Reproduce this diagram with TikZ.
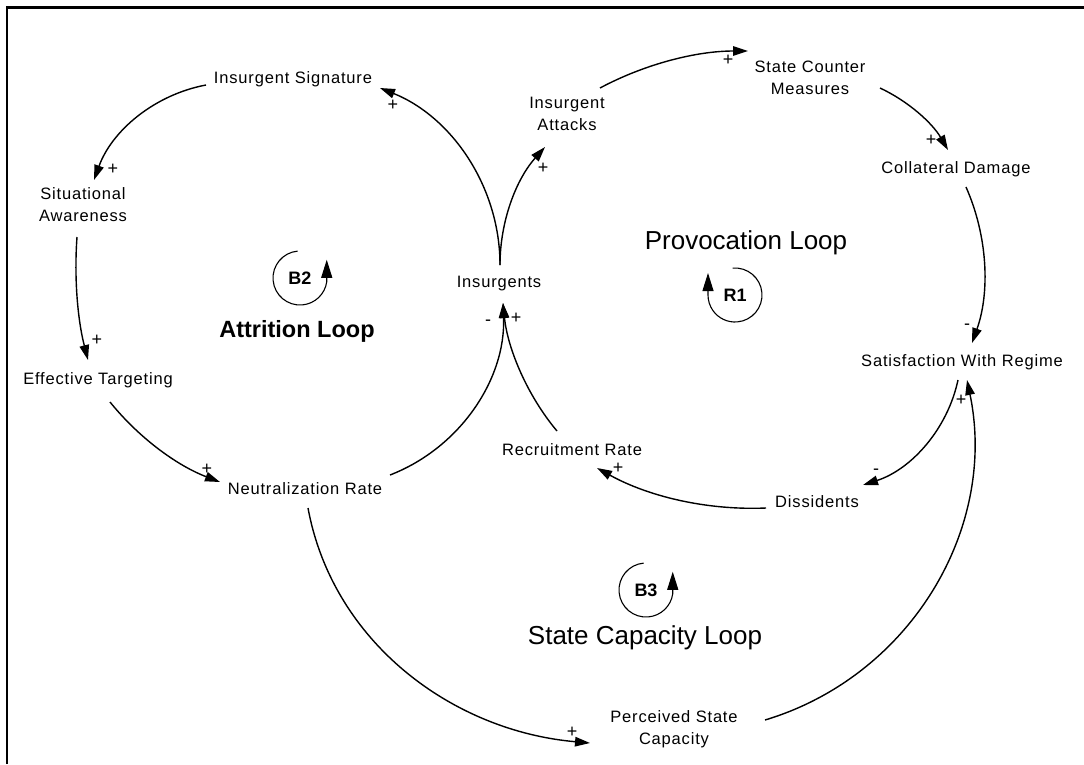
\documentclass[tikz,border=0pt]{standalone}
\usepackage{fontspec}
\setmainfont{Liberation Sans}
\newfontfamily\labfont[LetterSpace=5]{Liberation Sans}
\usetikzlibrary{arrows.meta}

\begin{document}
\begin{tikzpicture}[x=1pt,y=-1pt,
  var/.style={font=\labfont\fontsize{16.5}{22}\selectfont, align=center, inner sep=0pt},
  sign/.style={font=\fontsize{18}{18}\selectfont, inner sep=0pt},
  link/.style={line width=1.4pt, -{Triangle[length=15pt,width=9.5pt]}},
  looptitle/.style={font=\fontsize{26}{26}\selectfont, inner sep=0pt},
  looplbl/.style={font=\bfseries\fontsize{18}{18}\selectfont, inner sep=0pt},
  loopring/.style={line width=1.1pt, -{Triangle[length=18pt,width=11pt]}},
]
\path[use as bounding box] (0,0) rectangle (1084,764);

% frame
\draw[line width=2.5pt] (7,764) -- (7,7.7) -- (1084,7.7);

% variables
\node[var] (sig) at (293,79)  {Insurgent Signature};
\node[var] (sit) at (83,205)  {Situational\\Awareness};
\node[var] (eff) at (98,380)  {Effective Targeting};
\node[var] (neu) at (305,489) {Neutralization Rate};
\node[var] (ins) at (499,284) {Insurgents};
\node[var] (att) at (567,114) {Insurgent\\Attacks};
\node[var] (scm) at (810,78)  {State Counter\\Measures};
\node[var] (col) at (956,169) {Collateral Damage};
\node[var] (sat) at (962,362) {Satisfaction With Regime};
\node[var] (dis) at (817,502) {Dissidents};
\node[var] (rec) at (572,450) {Recruitment Rate};
\node[var] (psc) at (674,729) {Perceived State\\Capacity};

% causal links
\draw[link] ([shift={(1,-19)}]ins.center) .. controls +(0,-78) and +(72,29) .. ([shift={(87,9)}]sig.center);
\draw[link] ([shift={(1,-19)}]ins.center) .. controls +(0,-43.5) and +(-29,32.5) .. ([shift={(-22,33)}]att.center);
\draw[link] ([shift={(33,-26)}]att.center) .. controls +(45.4,-24.2) and +(-51.5,0) .. ([shift={(-62,-27)}]scm.center);
\draw[link] ([shift={(70,10)}]scm.center) .. controls +(28.4,13.3) and +(-15.8,-27) .. ([shift={(-8,-19)}]col.center);
\draw[link] ([shift={(10,18)}]col.center) .. controls +(21.8,49.3) and +(18.1,-50.8) .. ([shift={(10,-19)}]sat.center);
\draw[link] ([shift={(-4,18)}]sat.center) .. controls +(-10.6,49.4) and +(48.1,-15.5) .. ([shift={(46,-17)}]dis.center);
\draw[link] ([shift={(-51,6)}]dis.center) .. controls +(-58.9,2.5) and +(51.6,28.6) .. ([shift={(25,18)}]rec.center);
\draw[link] ([shift={(-15,-19)}]rec.center) .. controls +(-29.6,-35.2) and +(4.6,45.8) .. ([shift={(4,19)}]ins.center);
\draw[link] ([shift={(85,-14)}]neu.center) .. controls +(70.5,-27.3) and +(2.9,75.5) .. ([shift={(4,19)}]ins.center);
\draw[link] ([shift={(12,22)}]eff.center) .. controls +(29,35.9) and +(-43.1,-16.5) .. ([shift={(-85,-7)}]neu.center);
\draw[link] ([shift={(-6,32)}]sit.center) .. controls +(-3,41.3) and +(-10.3,-40.1) .. ([shift={(-10,-20)}]eff.center);
\draw[link] ([shift={(-87,6)}]sig.center) .. controls +(-51.6,9.7) and +(17.9,-49.4) .. ([shift={(11,-25)}]sit.center);
\draw[link] ([shift={(3,19)}]neu.center) .. controls +(25,135) and +(-137,-12) .. ([shift={(-84,14)}]psc.center);
\draw[link] ([shift={(91,-9)}]psc.center) .. controls +(145.3,-43.7) and +(30.9,148.5) .. ([shift={(5,18)}]sat.center);

% link polarities
\node[sign] (p1)  at (393,105) {+};
\node[sign] (p2)  at (543,168) {+};
\node[sign] (p3)  at (728,60)  {+};
\node[sign] (p4)  at (931,140) {+};
\node[sign] (p5)  at (967,327) {-};
\node[sign] (p6)  at (876,472) {-};
\node[sign] (p7)  at (618,468) {+};
\node[sign] (p8)  at (516,318) {+};
\node[sign] (p9)  at (488,323) {-};
\node[sign] (p10) at (207,469) {+};
\node[sign] (p11) at (97,340)  {+};
\node[sign] (p12) at (113,169) {+};
\node[sign] (p13) at (572,732) {+};
\node[sign] (p14) at (961,400) {+};

% loop identifiers
\node[looplbl] (b2) at (300,278) {B2};
\draw[loopring] (300,278) ++(265:27) arc[start angle=265, end angle=8, radius=27] -- ++(0,-22);
\node[looplbl] (r1) at (735,295) {R1};
\draw[loopring] (735,295) ++(265:27) arc[start angle=265, end angle=540, radius=27] -- ++(0,-22);
\node[looplbl] (b3) at (646,590) {B3};
\draw[loopring] (646,590) ++(265:27) arc[start angle=265, end angle=8, radius=27] -- ++(0,-22);

% loop names
\node[looptitle] (lprov) at (746,243) {Provocation Loop};
\node[looptitle, font=\bfseries\fontsize{23.5}{23.5}\selectfont] (lattr) at (297,331) {Attrition Loop};
\node[looptitle] (lcap) at (645,638) {State Capacity Loop};
\end{tikzpicture}
\end{document}
